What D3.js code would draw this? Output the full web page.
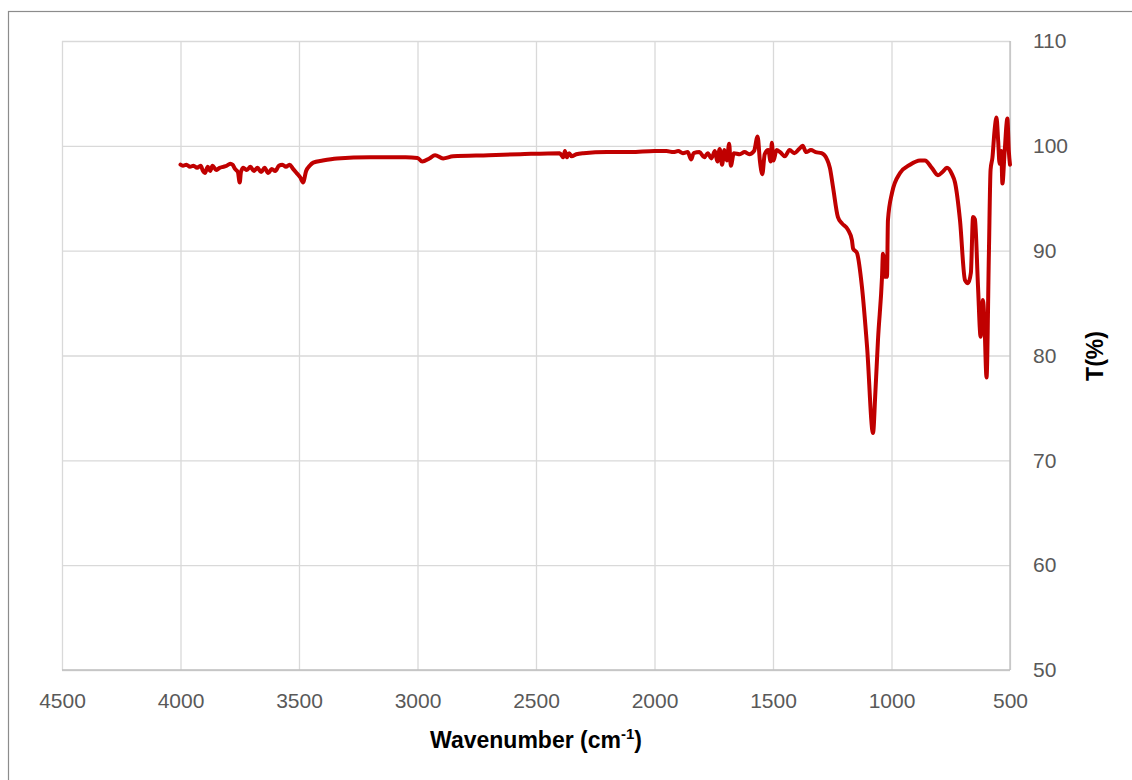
<!DOCTYPE html>
<html>
<head>
<meta charset="utf-8">
<script src="https://cdn.jsdelivr.net/npm/d3@7"></script>
<style>
  body { margin: 0; background: #fff; }
  svg { display: block; font-family: "Liberation Sans", Arial, sans-serif; }
  .grid line { stroke: #d9d9d9; stroke-width: 1.3px; }
  .grid path { display: none; }
  .axis path { display: none; }
  .axis line { display: none; }
  .axis text { fill: #595959; font-size: 21px; }
  .spectrum { fill: none; stroke: #c00000; stroke-width: 4px; stroke-linejoin: round; stroke-linecap: round; }
  .title { font-weight: bold; font-size: 23px; fill: #000; }
</style>
</head>
<body>
<svg id="chart" width="1132" height="780"></svg>
<script>
// FTIR spectrum
var wavenumber = [
  4000, 3990, 3975, 3960, 3945, 3930, 3915, 3905, 3897, 3885, 3875, 3865, 3850, 3835, 3820,
  3805, 3790, 3780, 3770, 3758, 3750, 3745, 3735, 3720, 3705, 3690, 3675, 3660, 3645, 3630,
  3615, 3600, 3585, 3570, 3555, 3540, 3525, 3510, 3495, 3483, 3470, 3455, 3440, 3400, 3340,
  3200, 3050, 3000, 2980, 2950, 2926, 2892, 2850, 2700, 2567, 2400, 2385, 2378, 2370, 2360,
  2350, 2330, 2300, 2200, 2100, 2000, 1950, 1920, 1900, 1880, 1860, 1845, 1835, 1810, 1790,
  1775, 1760, 1745, 1735, 1725, 1715, 1705, 1695, 1685, 1678, 1665, 1640, 1620, 1600, 1580,
  1565, 1555, 1545, 1535, 1520, 1510, 1505, 1498, 1485, 1470, 1450, 1430, 1410, 1390, 1375,
  1360, 1340, 1320, 1295, 1272, 1260, 1247, 1226, 1209, 1184, 1167, 1162, 1146, 1125, 1103,
  1078, 1068, 1057, 1040, 1036, 1027, 1023, 1019, 1015, 998, 964, 922, 880, 859, 830,
  804, 785, 766, 745, 732, 711, 690, 677, 665, 656, 648, 635, 624, 614, 608,
  599, 589, 582, 574, 565, 557, 550, 544, 537, 532, 523, 511, 505, 500
];
var transmittance = [
  98.2, 98.1, 98.2, 98.0, 98.1, 97.9, 98.1, 97.6, 97.4, 98.0, 97.6, 98.1, 97.7, 97.9, 98.0,
  98.1, 98.3, 98.2, 97.8, 97.5, 96.5, 97.5, 97.9, 97.7, 98.0, 97.6, 97.9, 97.5, 97.9, 97.4,
  97.8, 97.6, 98.1, 98.2, 98.0, 98.2, 97.8, 97.4, 97.0, 96.5, 97.6, 98.1, 98.4, 98.6, 98.8,
  98.9, 98.9, 98.85, 98.5, 98.8, 99.1, 98.8, 99.0, 99.1, 99.2, 99.3, 98.9, 99.5, 98.9, 99.3,
  99.0, 99.2, 99.3, 99.4, 99.4, 99.5, 99.5, 99.4, 99.5, 99.3, 99.4, 98.7, 99.3, 99.4, 98.9,
  99.3, 98.8, 99.5, 98.5, 99.7, 98.2, 99.6, 98.6, 100.2, 98.1, 99.3, 99.2, 99.4, 99.2, 99.5,
  100.9, 98.5, 97.3, 99.2, 99.6, 98.5, 100.3, 98.6, 99.6, 99.4, 99.0, 99.6, 99.3, 99.7, 100.0,
  99.4, 99.6, 99.4, 99.3, 98.7, 97.9, 96.1, 93.2, 92.6, 92.0, 91.0, 90.2, 89.8, 86.6, 80.8,
  72.6, 76.5, 81.5, 87.5, 89.7, 87.5, 89.5, 87.5, 92.9, 95.5, 97.4, 98.2, 98.6, 98.6, 97.9,
  97.2, 97.5, 97.9, 97.3, 96.5, 92.9, 87.2, 86.9, 87.9, 93.2, 93.0, 86.6, 81.8, 85.3, 83.3,
  77.9, 89.8, 97.7, 98.9, 101.5, 102.7, 100.5, 98.3, 99.5, 96.4, 99.3, 102.6, 99.5, 98.2
];

var xTicks = [4500, 4000, 3500, 3000, 2500, 2000, 1500, 1000, 500];
var yTicks = [50, 60, 70, 80, 90, 100, 110];
var xTitle = "Wavenumber (cm";
var xTitleSup = "-1";
var yTitle = "T(%)";

var margin = {top: 41, right: 122, bottom: 110, left: 62},
    width = 1132, height = 780,
    plotW = width - margin.left - margin.right,
    plotH = height - margin.top - margin.bottom;

var svg = d3.select("#chart");

// outer chart frame (runs off the right/bottom edge like the source)
svg.append("rect")
  .attr("x", 8.5).attr("y", 11.5)
  .attr("width", 1140).attr("height", 800)
  .attr("fill", "#fff").attr("stroke", "#8c8c8c").attr("stroke-width", 1.2);

var x = d3.scaleLinear().domain([4500, 500]).range([0, plotW]);
var y = d3.scaleLinear().domain([50, 110]).range([plotH, 0]);

var g = svg.append("g")
  .attr("transform", "translate(" + margin.left + "," + margin.top + ")");

// gridlines
g.append("g").attr("class", "grid")
  .attr("transform", "translate(0," + plotH + ")")
  .call(d3.axisBottom(x).tickValues(xTicks).tickSize(-plotH).tickFormat(""));
g.append("g").attr("class", "grid")
  .call(d3.axisLeft(y).tickValues(yTicks).tickSize(-plotW).tickFormat(""));

// axis lines, slightly darker
g.append("line").attr("x1", 0).attr("x2", plotW).attr("y1", plotH).attr("y2", plotH)
  .attr("stroke", "#bfbfbf").attr("stroke-width", 1.3);
g.append("line").attr("x1", plotW).attr("x2", plotW).attr("y1", 0).attr("y2", plotH)
  .attr("stroke", "#bfbfbf").attr("stroke-width", 1.3);

// tick labels
g.append("g").attr("class", "x axis")
  .attr("transform", "translate(0," + plotH + ")")
  .call(d3.axisBottom(x).tickValues(xTicks).tickSize(0).tickPadding(23).tickFormat(d3.format("d")));
g.append("g").attr("class", "y axis")
  .attr("transform", "translate(" + plotW + ",0)")
  .call(d3.axisRight(y).tickValues(yTicks).tickSize(0).tickPadding(23).tickFormat(d3.format("d")));

// spectrum
var data = wavenumber.map(function(w, i) { return {w: w, t: transmittance[i]}; });
var line = d3.line()
  .curve(d3.curveMonotoneX)
  .x(function(d) { return x(d.w); })
  .y(function(d) { return y(d.t); });
g.append("path").datum(data).attr("class", "spectrum").attr("d", line);

// axis titles
var xt = svg.append("text").attr("class", "title")
  .attr("x", margin.left + plotW / 2).attr("y", 748)
  .attr("text-anchor", "middle");
xt.append("tspan").text(xTitle);
xt.append("tspan").attr("dy", -9).attr("font-size", 15).text(xTitleSup);
xt.append("tspan").attr("dy", 9).text(")");

svg.append("text").attr("class", "title")
  .attr("transform", "translate(1103," + 356 + ") rotate(-90)")
  .attr("text-anchor", "middle")
  .text(yTitle);
</script>
</body>
</html>
